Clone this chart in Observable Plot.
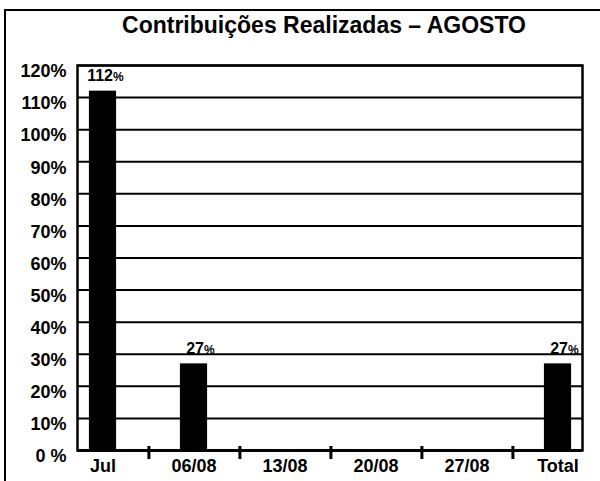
<!DOCTYPE html>
<html><head><meta charset="utf-8">
<script src="https://cdn.jsdelivr.net/npm/d3@7"></script>
<script src="https://cdn.jsdelivr.net/npm/@observablehq/plot@0.6"></script>
<style>
body{margin:0;background:#fff;}
#wrap{position:relative;width:600px;height:481px;overflow:hidden;font-family:"Liberation Sans",Arial,sans-serif;color:#000;}
#border{position:absolute;left:4px;top:9px;width:700px;height:600px;border-left:2px solid #000;border-top:2px solid #000;}
#title{position:absolute;left:324px;top:14px;transform:translateX(-50%);white-space:nowrap;font-size:23px;font-weight:bold;line-height:23px;}
#chart{position:absolute;left:0;top:50px;}
</style></head>
<body><div id="wrap"><div id="border"></div><div id="title"></div><div id="chart"></div></div>
<script>
const title = "Contribuições Realizadas – AGOSTO";
const categories = ["Jul", "06/08", "13/08", "20/08", "27/08", "Total"];
const values = [112, 27, null, null, null, 27];
const yTicks = [0, 10, 20, 30, 40, 50, 60, 70, 80, 90, 100, 110, 120];
const yTickLabels = ["0 %", "10%", "20%", "30%", "40%", "50%", "60%", "70%", "80%", "90%", "100%", "110%", "120%"];

document.getElementById("title").textContent = title;

const data = categories.map((c, i) => ({cat: c, value: values[i]}));
const bars = data.filter(d => d.value != null);

const W = 600, H = 431, mL = 77, mR = 18, mT = 15, mB = 31;
const padOuter = -0.25;
const step = (W - mL - mR) / (categories.length + 2 * padOuter);
const barW = 28;
const inset = (step - barW) / 2;
const plotH = H - mT - mB;
const font = '"Liberation Sans", Arial, sans-serif';

const chart = Plot.plot({
  width: W, height: H,
  marginLeft: mL, marginRight: mR, marginTop: mT, marginBottom: mB,
  style: {fontFamily: font, fontSize: "18px", fontWeight: "bold", color: "#000", background: "transparent", overflow: "visible"},
  x: {type: "band", domain: categories, paddingInner: 0, paddingOuter: padOuter, label: null},
  y: {domain: [0, 120], label: null},
  marks: [
    Plot.gridY(yTicks, {stroke: "#000", strokeOpacity: 1, strokeWidth: 2}),
    Plot.barY(bars, {x: "cat", y: "value", fill: "#000", insetLeft: inset, insetRight: inset}),
    Plot.frame({stroke: "#000", strokeWidth: 2.5}),
    Plot.ruleY([0], {stroke: "#000", strokeWidth: 3}),
    Plot.ruleX(categories.slice(0, -1), {x: d => d, dx: step / 2, stroke: "#000", strokeWidth: 3, insetTop: plotH - 4, insetBottom: -9}),
    Plot.axisY(yTicks, {tickSize: 0, tickPadding: 11, tickFormat: d => yTickLabels[yTicks.indexOf(d)], dy: 6, fontSize: 18, fontWeight: "bold", label: null}),
    Plot.axisX({tickSize: 0, tickPadding: 9, fontSize: 18, fontWeight: "bold", label: null}),
    Plot.text(bars, {x: "cat", y: "value", text: d => String(d.value), textAnchor: "end", lineAnchor: "bottom", dx: 10, dy: -10, fontSize: 16, fontWeight: "bold"}),
    Plot.text(bars, {x: "cat", y: "value", text: () => "%", textAnchor: "start", lineAnchor: "bottom", dx: 10, dy: -10, fontSize: 12, fontWeight: "bold"})
  ]
});
document.getElementById("chart").appendChild(chart);
</script>
</body></html>
